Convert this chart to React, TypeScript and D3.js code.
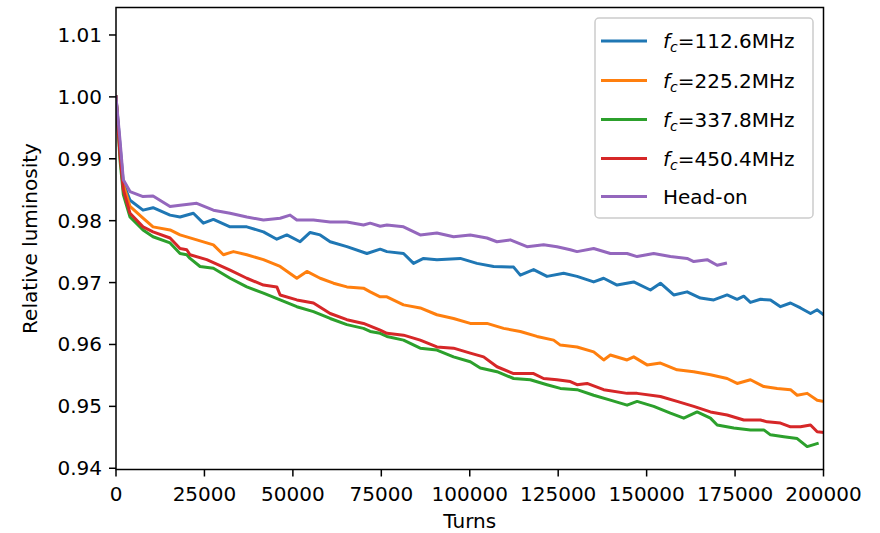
import React from "react";
import * as d3 from "d3";

type Pt = [number, number];

const xTicks = [0, 25000, 50000, 75000, 100000, 125000, 150000, 175000, 200000];
const yTicks = [0.94, 0.95, 0.96, 0.97, 0.98, 0.99, 1.0, 1.01];

const seriesNames = ["112.6MHz", "225.2MHz", "337.8MHz", "450.4MHz", "Head-on"];
const seriesColors = ["#1f77b4", "#ff7f0e", "#2ca02c", "#d62728", "#9467bd"];

const blueData: Pt[] = [
  [0, 1.0], [1130, 0.9922], [2070, 0.9861], [3960, 0.9833], [7640, 0.9817], [10470, 0.9821],
  [15280, 0.9809], [18100, 0.9806], [21870, 0.9812], [24700, 0.9796], [27530, 0.9802],
  [32250, 0.979], [36980, 0.979], [41670, 0.9782], [45460, 0.977], [48290, 0.9777],
  [52050, 0.9766], [54880, 0.9781], [57710, 0.9777], [60540, 0.9766], [65270, 0.9758],
  [70930, 0.9747], [74690, 0.9754], [76580, 0.975], [81280, 0.9747], [84110, 0.9731],
  [86940, 0.9739], [90720, 0.9737], [97320, 0.9739], [102040, 0.9731], [106740, 0.9726],
  [112400, 0.9725], [114290, 0.9712], [118050, 0.9721], [121840, 0.971], [126540, 0.9715],
  [130330, 0.971], [135030, 0.9701], [137860, 0.9707], [141640, 0.9696], [146350, 0.9701],
  [151070, 0.9688], [153900, 0.9699], [157660, 0.968], [161450, 0.9685], [165210, 0.9675],
  [168980, 0.9672], [172750, 0.968], [175580, 0.9673], [177460, 0.9678], [179350, 0.9668],
  [182180, 0.9673], [185010, 0.9672], [187840, 0.9661], [190670, 0.9667], [193500, 0.9659],
  [196330, 0.965], [198220, 0.9656], [200000, 0.9648],
];

const orangeData: Pt[] = [
  [0, 1.0], [1130, 0.9914], [2070, 0.9858], [3960, 0.9823], [7640, 0.9804], [10470, 0.979],
  [15280, 0.9785], [18100, 0.9777], [22830, 0.9769], [27530, 0.9761], [30360, 0.9745],
  [33190, 0.975], [36980, 0.9745], [41670, 0.9737], [46400, 0.9726], [51120, 0.9707],
  [53950, 0.9718], [57710, 0.9707], [61480, 0.9699], [65270, 0.9693], [69960, 0.9691],
  [71860, 0.9685], [74690, 0.9677], [76580, 0.9677], [81280, 0.9664], [86000, 0.9659],
  [90720, 0.9648], [95420, 0.9642], [100150, 0.9634], [104870, 0.9634], [109570, 0.9626],
  [114290, 0.9621], [119010, 0.9613], [123710, 0.9607], [125610, 0.9599], [130330, 0.9596],
  [135030, 0.9588], [137860, 0.9575], [139750, 0.9583], [144480, 0.9575], [146350, 0.958],
  [150130, 0.9567], [153900, 0.957], [158620, 0.9559], [163320, 0.9556], [168040, 0.9551],
  [172760, 0.9545], [175590, 0.9537], [179350, 0.9543], [183120, 0.9532], [186900, 0.9529],
  [190670, 0.9527], [192560, 0.9518], [195390, 0.9521], [198220, 0.951], [200000, 0.9508],
];

const greenData: Pt[] = [
  [0, 1.0], [1130, 0.9898], [2070, 0.9842], [3960, 0.9806], [7640, 0.9785], [10470, 0.9774],
  [15280, 0.9764], [18100, 0.9747], [20000, 0.9745], [20930, 0.9739], [23760, 0.9726],
  [27530, 0.9723], [32250, 0.9707], [36980, 0.9693], [41670, 0.9683], [46400, 0.9672],
  [51120, 0.9661], [55820, 0.9653], [60540, 0.9642], [65270, 0.9632], [69960, 0.9626],
  [71860, 0.9621], [74690, 0.9618], [76580, 0.9613], [81280, 0.9607], [86000, 0.9594],
  [90720, 0.9591], [95420, 0.958], [100150, 0.9572], [102980, 0.9562], [107700, 0.9556],
  [112400, 0.9545], [117120, 0.9543], [121840, 0.9535], [125610, 0.9529], [130330, 0.9527],
  [135030, 0.9518], [139750, 0.951], [144480, 0.9502], [147310, 0.9508], [152000, 0.95],
  [156730, 0.9489], [160490, 0.9481], [164270, 0.9491], [168040, 0.9481], [169940, 0.947],
  [174630, 0.9465], [179350, 0.9462], [183120, 0.9462], [185010, 0.9454], [188780, 0.9451],
  [192560, 0.9448], [195390, 0.9435], [198220, 0.944],
];

const redData: Pt[] = [
  [0, 1.0], [1130, 0.9906], [2070, 0.985], [3960, 0.9812], [7640, 0.979], [10470, 0.9782],
  [15280, 0.9772], [18100, 0.9755], [20000, 0.9753], [20930, 0.9745], [25660, 0.9737],
  [32250, 0.972], [36980, 0.9707], [41670, 0.9696], [45460, 0.9693], [46400, 0.968],
  [51120, 0.9672], [55820, 0.9667], [60540, 0.965], [65270, 0.964], [69960, 0.9634],
  [74690, 0.9623], [76580, 0.9618], [81280, 0.9615], [86000, 0.9607], [90720, 0.9596],
  [95420, 0.9594], [100150, 0.9586], [103910, 0.958], [107700, 0.9564], [112400, 0.9553],
  [118050, 0.9553], [120880, 0.9545], [124670, 0.9543], [128440, 0.954], [130330, 0.9535],
  [133160, 0.9537], [137860, 0.9527], [144480, 0.9521], [147310, 0.9521], [153900, 0.9516],
  [158620, 0.9508], [163320, 0.95], [168040, 0.9491], [172760, 0.9486], [177460, 0.9478],
  [182180, 0.9478], [184080, 0.9475], [187840, 0.9473], [190670, 0.9467], [193500, 0.9467],
  [196330, 0.947], [198220, 0.9459], [200000, 0.9458],
];

const purpleData: Pt[] = [
  [0, 1.0], [1130, 0.993], [2070, 0.9866], [3960, 0.9847], [7640, 0.9839], [10470, 0.984],
  [15280, 0.9823], [18100, 0.9825], [22830, 0.9828], [27530, 0.9817], [32250, 0.9812],
  [36980, 0.9806], [41670, 0.9801], [46400, 0.9804], [49210, 0.9809], [51120, 0.9801],
  [55820, 0.9801], [60540, 0.9798], [65270, 0.9798], [69960, 0.9793], [71860, 0.9796],
  [74690, 0.9791], [76580, 0.9793], [81280, 0.979], [86000, 0.9777], [90720, 0.978],
  [95420, 0.9774], [100150, 0.9777], [104870, 0.9772], [107700, 0.9766], [111460, 0.9769],
  [116190, 0.9758], [120880, 0.9761], [124670, 0.9758], [128440, 0.9753], [130330, 0.975],
  [135030, 0.9755], [139750, 0.9747], [144480, 0.9747], [147310, 0.9742], [152000, 0.9747],
  [156730, 0.9742], [161450, 0.9739], [163320, 0.9734], [167110, 0.9737], [169940, 0.9728],
  [172290, 0.9731],
];

const allSeries = [blueData, orangeData, greenData, redData, purpleData];

const W = 880;
const H = 533;
const left = 116;
const right = 823.5;
const top = 7.5;
const bottom = 469.5;
const FONT = "'DejaVu Sans', sans-serif";

export default function App() {
  const x = d3.scaleLinear().domain([0, 200000]).range([left, right]);
  const y = d3.scaleLinear().domain([0.9398, 1.01444]).range([bottom, top]);
  const line = d3
    .line<Pt>()
    .x((d) => x(d[0]))
    .y((d) => y(d[1]));
  const fmtY = d3.format(".2f");
  const fmtX = d3.format("d");

  const legX = 595;
  const legY = 18;
  const rowYs = [41, 80.5, 119.5, 158.5, 196.5];

  return (
    <svg
      width={W}
      height={H}
      style={{ position: "absolute", left: 0, top: 0, background: "#fff" }}
      fontFamily={FONT}
    >
      <defs>
        <clipPath id="plotclip">
          <rect x={left} y={top} width={right - left} height={bottom - top} />
        </clipPath>
      </defs>
      <rect x={0} y={0} width={W} height={H} fill="#fff" />
      <g clipPath="url(#plotclip)">
        {allSeries.map((s, i) => (
          <path
            key={i}
            d={line(s) || ""}
            fill="none"
            stroke={seriesColors[i]}
            strokeWidth={3}
            strokeLinejoin="round"
            strokeLinecap="square"
          />
        ))}
      </g>
      {/* spines */}
      <rect
        x={left}
        y={top}
        width={right - left}
        height={bottom - top}
        fill="none"
        stroke="#000"
        strokeWidth={1.5}
      />
      {/* y ticks */}
      {yTicks.map((t) => (
        <g key={"y" + t}>
          <line x1={left - 7} x2={left} y1={y(t)} y2={y(t)} stroke="#000" strokeWidth={1.5} />
          <text x={left - 14} y={y(t) + 7} fontSize={20} textAnchor="end" fill="#000">
            {fmtY(t)}
          </text>
        </g>
      ))}
      {/* x ticks */}
      {xTicks.map((t) => (
        <g key={"x" + t}>
          <line x1={x(t)} x2={x(t)} y1={bottom} y2={bottom + 7} stroke="#000" strokeWidth={1.5} />
          <text x={x(t)} y={bottom + 31} fontSize={20} textAnchor="middle" fill="#000">
            {fmtX(t)}
          </text>
        </g>
      ))}
      <text x={(left + right) / 2} y={528} fontSize={20} textAnchor="middle" fill="#000">
        Turns
      </text>
      <text
        transform={`translate(37, ${(top + bottom) / 2}) rotate(-90)`}
        fontSize={20}
        textAnchor="middle"
        fill="#000"
      >
        Relative luminosity
      </text>
      {/* legend */}
      <rect
        x={legX}
        y={legY}
        width={218}
        height={200}
        rx={4}
        fill="#fff"
        fillOpacity={0.8}
        stroke="#cccccc"
        strokeWidth={1.5}
      />
      {seriesNames.map((name, i) => (
        <g key={"l" + i}>
          <line
            x1={601}
            x2={647}
            y1={rowYs[i]}
            y2={rowYs[i]}
            stroke={seriesColors[i]}
            strokeWidth={3}
          />
          {i < 4 ? (
            <text x={663} y={rowYs[i] + 7} fontSize={20} fill="#000">
              <tspan fontStyle="italic">f</tspan>
              <tspan fontStyle="italic" fontSize={14} dy={4}>
                c
              </tspan>
              <tspan dy={-4}>{"=" + name}</tspan>
            </text>
          ) : (
            <text x={663} y={rowYs[i] + 7} fontSize={20} fill="#000">
              {name}
            </text>
          )}
        </g>
      ))}
    </svg>
  );
}
